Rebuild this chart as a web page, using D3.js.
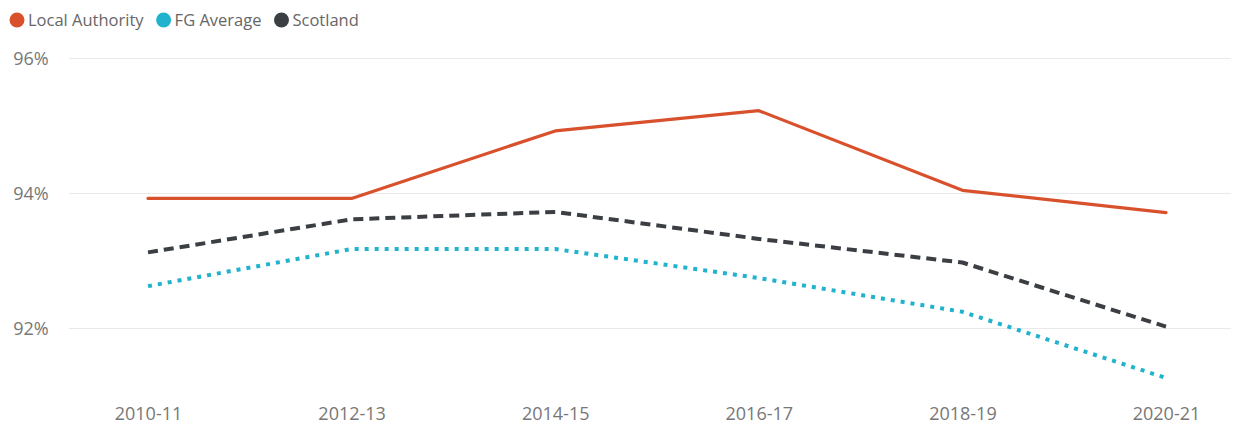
<!DOCTYPE html>
<html>
<head>
<meta charset="utf-8">
<script src="https://cdn.jsdelivr.net/npm/d3@7"></script>
<style>
  body { margin: 0; background: #fff; font-family: "Segoe UI", "Open Sans", "DejaVu Sans", sans-serif; }
  .legend-text { font-size: 16.5px; fill: #666; }
  .tick text { font-size: 18px; fill: #777; font-family: "Segoe UI", "Open Sans", sans-serif; }
</style>
</head>
<body>
<div id="chart"></div>
<script>
const years = ['2010-11', '2012-13', '2014-15', '2016-17', '2018-19', '2020-21'];
const localAuthority = [93.92, 93.92, 94.92, 95.22, 94.04, 93.71];
const fgAverage = [92.62, 93.17, 93.17, 92.74, 92.24, 91.26];
const scotland = [93.12, 93.61, 93.72, 93.32, 92.97, 92.02];
const yTicks = [92, 94, 96];

const WIDTH = 1244;
const HEIGHT = 427;

const series = [
  { name: 'Local Authority', values: localAuthority, color: '#D9512C', width: 3.2, dash: null, cap: 'round' },
  { name: 'FG Average', values: fgAverage, color: '#21B3CE', width: 4, dash: '4 6', cap: 'butt' },
  { name: 'Scotland', values: scotland, color: '#3B3E43', width: 4, dash: '10 6', cap: 'butt' },
];

const svg = d3.select('#chart')
  .append('svg')
  .attr('width', WIDTH)
  .attr('height', HEIGHT);

const x = d3.scalePoint().domain(years).range([148, 1166]);
const y = d3.scaleLinear().domain([92, 96]).range([328, 58]);

// gridlines
svg.append('g')
  .selectAll('line')
  .data(yTicks)
  .join('line')
  .attr('x1', 69)
  .attr('x2', 1231)
  .attr('y1', (d) => Math.round(y(d)) + 0.5)
  .attr('y2', (d) => Math.round(y(d)) + 0.5)
  .attr('stroke', '#e9e9e9')
  .attr('stroke-width', 1);

// y axis labels
const yAxis = svg.append('g')
  .attr('transform', 'translate(52,0)')
  .call(d3.axisLeft(y).tickValues(yTicks).tickFormat((d) => `${d}%`).tickSize(0));
yAxis.select('.domain').remove();
yAxis.selectAll('.tick text')
  .attr('text-anchor', 'middle')
  .attr('x', -21)
  .attr('dy', '0.35em');

// x axis labels
const xAxis = svg.append('g')
  .attr('transform', 'translate(0,414)')
  .call(d3.axisBottom(x).tickSize(0));
xAxis.select('.domain').remove();
xAxis.selectAll('.tick text').attr('y', 0).attr('dy', '0.35em');

const line = d3.line()
  .x((d, i) => x(years[i]))
  .y((d) => y(d));

svg.append('g')
  .selectAll('path')
  .data(series.slice().reverse())
  .join('path')
  .attr('d', (s) => line(s.values))
  .attr('fill', 'none')
  .attr('stroke', (s) => s.color)
  .attr('stroke-width', (s) => s.width)
  .attr('stroke-dasharray', (s) => s.dash)
  .attr('stroke-linecap', (s) => s.cap)
  .attr('stroke-linejoin', 'round');

// legend
const legend = svg.append('g').attr('transform', 'translate(17,20)');
let offset = 0;
series.forEach((s) => {
  const item = legend.append('g').attr('transform', `translate(${offset},0)`);
  item.append('circle').attr('r', 7.5).attr('fill', s.color);
  const text = item.append('text')
    .attr('class', 'legend-text')
    .attr('x', 11)
    .attr('dy', '0.35em')
    .text(s.name);
  offset += 11 + text.node().getComputedTextLength() + 20;
});
</script>
</body>
</html>
